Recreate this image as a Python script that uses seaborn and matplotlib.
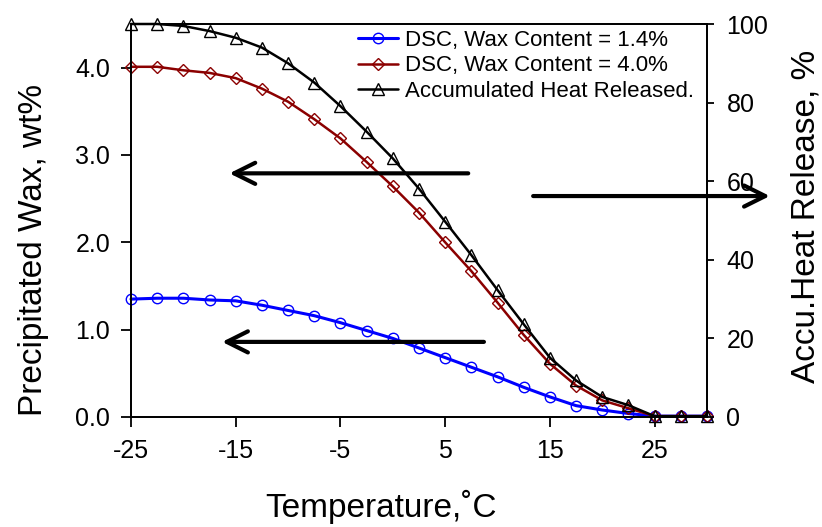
import matplotlib
matplotlib.use("Agg")
import matplotlib.pyplot as plt
import seaborn as sns
import pandas as pd

# ---- data ----
temperature = [-25, -22.5, -20, -17.5, -15, -12.5, -10, -7.5, -5, -2.5, 0, 2.5,
               5, 7.5, 10, 12.5, 15, 17.5, 20, 22.5, 25, 27.5, 30]
wax_14 = [1.35, 1.36, 1.36, 1.34, 1.33, 1.28, 1.22, 1.16, 1.08, 0.99, 0.90, 0.79,
          0.68, 0.57, 0.46, 0.34, 0.23, 0.13, 0.08, 0.04, 0.01, 0.01, 0.01]
wax_40 = [4.01, 4.01, 3.97, 3.94, 3.88, 3.76, 3.61, 3.41, 3.19, 2.92, 2.64, 2.34,
          2.00, 1.67, 1.31, 0.94, 0.61, 0.36, 0.19, 0.10, 0.01, 0.01, 0.01]
heat_released = [100.0, 100.0, 99.5, 98.2, 96.5, 94.0, 90.0, 85.1, 79.1, 72.6, 65.8, 58.1,
                 49.7, 41.2, 32.3, 23.6, 15.1, 9.3, 5.1, 3.0, 0.2, 0.2, 0.2]
labels = ["DSC, Wax Content = 1.4%", "DSC, Wax Content = 4.0%", "Accumulated Heat Released."]
x_ticks = [-25, -15, -5, 5, 15, 25]
y_left_ticks = [0.0, 1.0, 2.0, 3.0, 4.0]
y_right_ticks = [0, 20, 40, 60, 80, 100]

df = pd.DataFrame({"T": temperature, "w14": wax_14, "w40": wax_40, "heat": heat_released})

sns.set_style("ticks")
plt.rcParams["font.family"] = ["Liberation Sans", "DejaVu Sans"]
plt.rcParams["text.color"] = "black"
plt.rcParams["axes.labelcolor"] = "black"
plt.rcParams["xtick.color"] = "black"
plt.rcParams["ytick.color"] = "black"

fig = plt.figure(figsize=(8.22, 5.27), dpi=100)
ax = fig.add_axes([131 / 822, 1 - 417 / 527, 576 / 822, 393 / 527])
ax2 = ax.twinx()

sns.lineplot(data=df, x="T", y="w14", ax=ax, color="#0000FF", lw=2.2, marker="o",
             markersize=7.5, markerfacecolor="none", markeredgecolor="#0000FF",
             markeredgewidth=1.0, label=labels[0], clip_on=False, legend=False)
sns.lineplot(data=df, x="T", y="w40", ax=ax, color="#8B0000", lw=1.8, marker="D",
             markersize=6.5, markerfacecolor="none", markeredgecolor="#8B0000",
             markeredgewidth=1.0, label=labels[1], clip_on=False, legend=False)
sns.lineplot(data=df, x="T", y="heat", ax=ax2, color="black", lw=1.8, marker="^",
             markersize=9, markerfacecolor="none", markeredgecolor="black",
             markeredgewidth=1.0, label=labels[2], clip_on=False, legend=False)

ax.set_xlim(-25, 30)
ax.set_ylim(0, 4.5)
ax2.set_ylim(0, 100)
ax.set_xticks(x_ticks)
ax.set_xticklabels([str(t) for t in x_ticks])
ax.set_yticks(y_left_ticks)
ax.set_yticklabels([f"{v:.1f}" for v in y_left_ticks])
ax2.set_yticks(y_right_ticks)
ax2.set_yticklabels([str(v) for v in y_right_ticks])

for a in (ax, ax2):
    for s in a.spines.values():
        s.set_visible(True)
        s.set_color("black")
        s.set_linewidth(1.3)
ax.tick_params(axis="both", direction="out", length=7, width=1.3, labelsize=18,
               colors="black", pad=8)
ax.tick_params(axis="x", pad=9)
ax2.tick_params(axis="y", direction="out", length=5, width=1.3, labelsize=18,
                colors="black", pad=9)

ax.set_xlabel("Temperature,˚C", fontsize=24)
ax.set_ylabel("Precipitated Wax, wt%", fontsize=24)
ax2.set_ylabel("Accu.Heat Release, %", fontsize=24)
ax.xaxis.set_label_coords(0.434, -0.185)
ax.yaxis.set_label_coords(-0.142, 0.425)
ax2.yaxis.set_label_coords(1.145, 0.511)

# arrows
arrow_kw = dict(arrowstyle="->", lw=3, color="black", mutation_scale=38,
                shrinkA=0, shrinkB=0)
ax.annotate("", xy=(-15.6, 2.79), xytext=(7.2, 2.79), arrowprops=arrow_kw,
            annotation_clip=False)
ax.annotate("", xy=(-16.3, 0.86), xytext=(8.7, 0.86), arrowprops=arrow_kw,
            annotation_clip=False)
ax.annotate("", xy=(36.0, 2.53), xytext=(13.4, 2.53), arrowprops=arrow_kw,
            annotation_clip=False)

h1, l1 = ax.get_legend_handles_labels()
h2, l2 = ax2.get_legend_handles_labels()
leg = ax2.legend(h1 + h2, l1 + l2, loc="upper left", bbox_to_anchor=(0.394, 0.985),
                 frameon=False, fontsize=16, handlelength=1.8, handletextpad=0.3,
                 labelspacing=0.2, borderpad=0, borderaxespad=0)

fig.savefig("out.png", dpi=100)
